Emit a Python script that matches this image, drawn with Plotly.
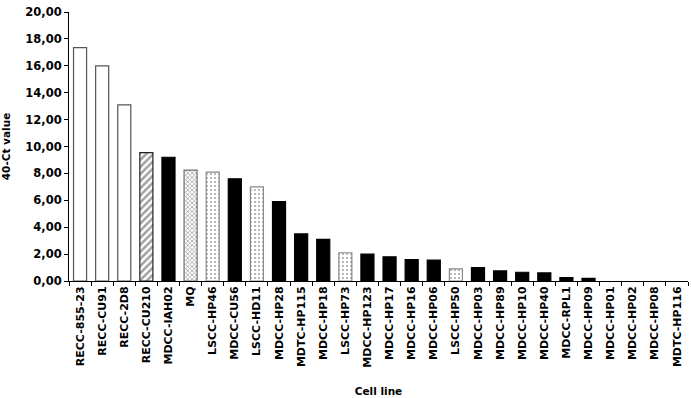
import plotly.graph_objects as go

cells = ["RECC-855-23", "RECC-CU91", "RECC-2D8", "RECC-CU210", "MDCC-IAH02", "MQ",
         "LSCC-HP46", "MDCC-CU56", "LSCC-HD11", "MDCC-HP28", "MDTC-HP115", "MDCC-HP18",
         "LSCC-HP73", "MDCC-HP123", "MDCC-HP17", "MDCC-HP16", "MDCC-HP06", "LSCC-HP50",
         "MDCC-HP03", "MDCC-HP89", "MDCC-HP10", "MDCC-HP40", "MDCC-RPL1", "MDCC-HP09",
         "MDCC-HP01", "MDCC-HP02", "MDCC-HP08", "MDTC-HP116"]
values = [17.35, 16.0, 13.1, 9.55, 9.2, 8.25, 8.1, 7.6, 7.0, 5.9, 3.5, 3.1,
          2.1, 2.0, 1.8, 1.6, 1.55, 0.9, 1.0, 0.75, 0.65, 0.6, 0.25, 0.2,
          0, 0, 0, 0]
# group per bar: R=RECC (open), H=hatched, M=MDCC (black), Q=MQ, L=LSCC (dotted)
groups = ["R", "R", "R", "H", "M", "Q", "L", "M", "L", "M", "M", "M",
          "L", "M", "M", "M", "M", "L", "M", "M", "M", "M", "M", "M",
          "M", "M", "M", "M"]

style = {
    "R": dict(color="white", shape="", fg="black", line="#555555", size=6, sol=0.3),
    "H": dict(color="white", shape="/", fg="black", line="#222222", size=5, sol=0.5),
    "M": dict(color="black", shape="", fg="black", line="black", size=6, sol=0.3),
    "Q": dict(color="white", shape="x", fg="#606060", line="#707070", size=3, sol=0.45),
    "L": dict(color="white", shape=".", fg="#9a9a9a", line="#8a8a8a", size=4, sol=0.2),
}

fig = go.Figure()
fig.add_trace(go.Bar(
    x=cells, y=values,
    marker=dict(
        color=[style[g]["color"] for g in groups],
        line=dict(color=[style[g]["line"] for g in groups],
                  width=[1.2 if v > 0 else 0 for v in values]),
        pattern=dict(shape=[style[g]["shape"] for g in groups],
                     fgcolor=[style[g]["fg"] for g in groups],
                     bgcolor=[style[g]["color"] for g in groups],
                     size=[style[g]["size"] for g in groups],
                     solidity=[style[g]["sol"] for g in groups]),
    ),
    showlegend=False,
))

fig.update_layout(
    width=691, height=398,
    margin=dict(l=69, r=3, t=12, b=117),
    paper_bgcolor="white", plot_bgcolor="white",
    separators=",.",
    bargap=0.41,
    font=dict(family="DejaVu Sans", size=11, color="black", weight="bold"),
    xaxis=dict(
        type="category", tickangle=-90, tickson="boundaries",
        ticks="outside", ticklen=4, tickcolor="black",
        showline=True, linecolor="black", linewidth=1,
        tickfont=dict(size=11, weight="bold"),
        title=dict(text="Cell line", font=dict(size=10.5, weight="bold"), standoff=20),
        showgrid=False,
    ),
    yaxis=dict(
        range=[0, 20], dtick=2, tickformat=".2f",
        ticks="outside", ticklen=4, tickcolor="black",
        showline=True, linecolor="black", linewidth=1,
        tickfont=dict(size=11.5, weight="bold"),
        title=dict(text="40-Ct value", font=dict(size=10.5, weight="bold"), standoff=13),
        showgrid=False, zeroline=False,
    ),
)

fig.write_html("out.html")
